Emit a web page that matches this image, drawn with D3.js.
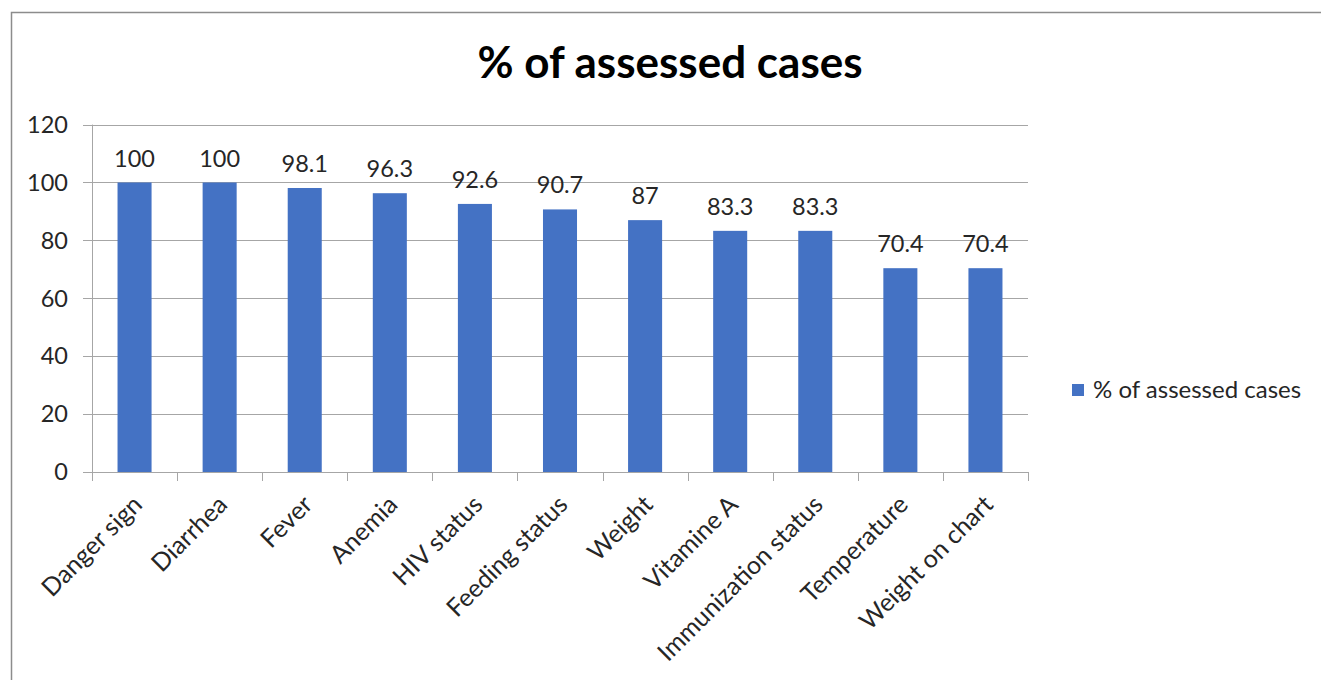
<!DOCTYPE html>
<html lang="en">
<head>
<meta charset="utf-8">
<title>% of assessed cases</title>
<script src="https://cdn.jsdelivr.net/npm/d3@7"></script>
<style>
  body { margin: 0; background: #fff; }
  text { font-family: Lato, "Open Sans", sans-serif; }
</style>
</head>
<body>
<script>
// data
const categories = ["Danger sign", "Diarrhea", "Fever", "Anemia", "HIV status", "Feeding status",
  "Weight", "Vitamine A", "Immunization status", "Temperature", "Weight on chart"];
const values = [100, 100, 98.1, 96.3, 92.6, 90.7, 87, 83.3, 83.3, 70.4, 70.4];
const yTicks = [0, 20, 40, 60, 80, 100, 120];
const seriesName = "% of assessed cases";

const W = 1321, H = 680;
const plot = {left: 92, right: 1028, top: 124.6, bottom: 472};
const fs = "23.5px";

const svg = d3.select("body").append("svg")
    .attr("width", W).attr("height", H);

// chart frame
svg.append("rect")
    .attr("x", 11.5).attr("y", 12.5)
    .attr("width", W + 10).attr("height", H + 10)
    .attr("fill", "none").attr("stroke", "#8c8c8c").attr("stroke-width", 1.5);

svg.append("text")
    .attr("x", 670).attr("y", 78)
    .attr("text-anchor", "middle")
    .style("font-size", "44px").style("font-weight", "bold")
    .attr("fill", "#000")
    .text(seriesName);

const x = d3.scaleBand().domain(categories)
    .range([plot.left, plot.right]).paddingInner(0.6).paddingOuter(0.3);
const y = d3.scaleLinear().domain([0, 120]).range([plot.bottom, plot.top]);

// gridlines
svg.append("g").selectAll("line").data(yTicks).join("line")
    .attr("x1", plot.left - 9).attr("x2", plot.right)
    .attr("y1", d => Math.round(y(d)) + 0.5).attr("y2", d => Math.round(y(d)) + 0.5)
    .attr("stroke", "#a6a6a6").attr("stroke-width", 1);

// y axis labels
svg.append("g").selectAll("text").data(yTicks).join("text")
    .attr("x", plot.left - 24).attr("y", d => y(d))
    .attr("dy", "0.35em").attr("text-anchor", "end")
    .style("font-size", fs).attr("fill", "#262626")
    .text(d => d);

// y axis line
svg.append("line")
    .attr("x1", plot.left + 0.5).attr("x2", plot.left + 0.5)
    .attr("y1", plot.top).attr("y2", plot.bottom + 9)
    .attr("stroke", "#a6a6a6");

// x category ticks
const tickPos = d3.range(categories.length + 1).map(i => plot.left + i * (plot.right - plot.left) / categories.length);
svg.append("g").selectAll("line").data(tickPos).join("line")
    .attr("x1", d => Math.round(d) + 0.5).attr("x2", d => Math.round(d) + 0.5)
    .attr("y1", plot.bottom).attr("y2", plot.bottom + 9)
    .attr("stroke", "#a6a6a6");

// bars
svg.append("g").selectAll("rect").data(values).join("rect")
    .attr("x", (d, i) => x(categories[i]))
    .attr("width", x.bandwidth())
    .attr("y", d => y(d))
    .attr("height", d => y(0) - y(d))
    .attr("fill", "#4472c4");

// data labels
svg.append("g").selectAll("text").data(values).join("text")
    .attr("x", (d, i) => x(categories[i]) + x.bandwidth() / 2)
    .attr("y", d => y(d) - 16)
    .attr("text-anchor", "middle")
    .style("font-size", fs).attr("fill", "#262626")
    .text(d => d);

// category labels, rotated
svg.append("g").selectAll("text").data(categories).join("text")
    .attr("transform", d => `translate(${x(d) + x.bandwidth() / 2 + 3},${plot.bottom + 28}) rotate(-45)`)
    .attr("text-anchor", "end")
    .attr("dy", "0.35em")
    .style("font-size", "25px").attr("fill", "#262626")
    .text(d => d);

// legend
const lg = svg.append("g").attr("transform", "translate(1072,384)");
lg.append("rect").attr("width", 12).attr("height", 12).attr("fill", "#4472c4");
lg.append("text").attr("x", 21).attr("y", 6).attr("dy", "0.35em")
    .style("font-size", "24px").attr("fill", "#262626")
    .text(seriesName);
</script>
</body>
</html>
